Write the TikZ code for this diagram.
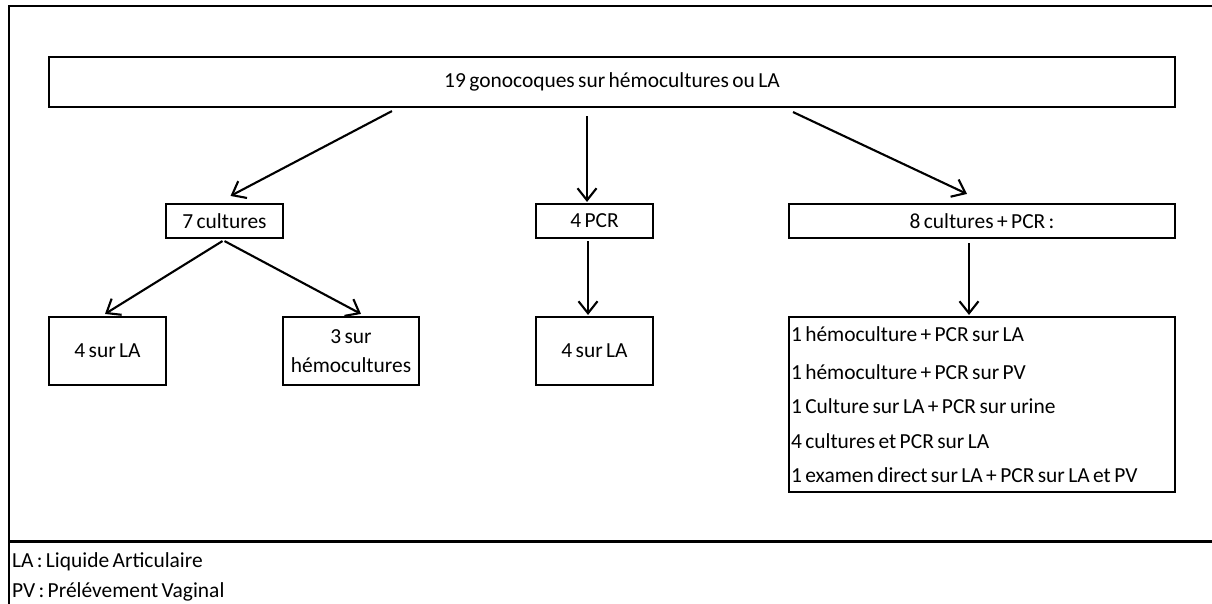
\documentclass[tikz,border=0pt]{standalone}
\usepackage{fontspec}
\setmainfont{Carlito}[WordSpace={0.7,0.5,0.5}]
\usetikzlibrary{arrows.meta}

\begin{document}
\begin{tikzpicture}[x=0.02cm,y=-0.02cm,line width=1.2pt,
  >={Straight Barb[length=2.4mm,width=3.8mm,line width=1.2pt]},
  txt/.style={font=\fontsize{12.2}{14.6}\selectfont},
  box/.style={draw,txt,inner sep=0pt,minimum height=0.68cm},
  tallbox/.style={box,minimum width=2.34cm,minimum height=1.36cm,align=center}]
  \useasboundingbox (0,0) rectangle (1212,604);

  % frame
  \draw (1212,6) -- (9,6) -- (9,604);
  \draw (9,541.5) -- (1212,541.5);

  % boxes
  \node[box,minimum width=22.52cm,minimum height=1cm] (top) at (612,82) {19 gonocoques sur hémocultures ou LA};
  \node[box,minimum width=2.34cm] (c7) at (224.5,221) {7 cultures};
  \node[box,minimum width=2.34cm] (pcr) at (594.5,221) {4 PCR};
  \node[box,minimum width=7.72cm] (pc) at (982,221) {8 cultures + PCR :};
  \node[tallbox] (la1) at (107.5,351) {4 sur LA};
  \node[tallbox,minimum width=2.72cm] (hemo) at (351,351) {\spaceskip=0pt\relax 3 sur\\[2pt]hémocultures};
  \node[tallbox] (la2) at (594.5,351) {4 sur LA};
  \node[box,minimum width=7.72cm,minimum height=3.5cm,text width=7.64cm,align=left,inner xsep=0.04cm] (list) at (982,404.5)
    {\spaceskip=0pt\relax
     1 hémoculture + PCR sur LA\\[7pt]
     1 hémoculture + PCR sur PV\\[5pt]
     1 Culture sur LA + PCR sur urine\\[5pt]
     4 cultures et PCR sur LA\\[5pt]
     1 examen direct sur LA + PCR sur LA et PV};

  % legend
  \node[txt,anchor=base west,inner sep=0pt] (leg1) at (11,567) {LA : Liquide Articulaire};
  \node[txt,anchor=base west,inner sep=0pt] (leg2) at (11,597) {PV : Prélévement Vaginal};

  % arrows
  \draw[->] ([shift={(-220,3)}]top.south) -- ([shift={(6,-7)}]c7.north);
  \draw[->] ([shift={(-25,8)}]top.south) -- ([shift={(-7.5,-1)}]pcr.north);
  \draw[->] ([shift={(181,4)}]top.south) -- ([shift={(-15,-9)}]pc.north);
  \draw[->] ([shift={(-2,2)}]c7.south) -- ([shift={(-2.5,-2)}]la1.north);
  \draw[->] ([shift={(0,2)}]c7.south) -- ([shift={(10,-2)}]hemo.north);
  \draw[->] ([shift={(-6.5,2)}]pcr.south) -- ([shift={(-6.5,-1)}]la2.north);
  \draw[->] ([shift={(-13,4)}]pc.south) -- ([shift={(-13,-1)}]list.north);
\end{tikzpicture}
\end{document}
